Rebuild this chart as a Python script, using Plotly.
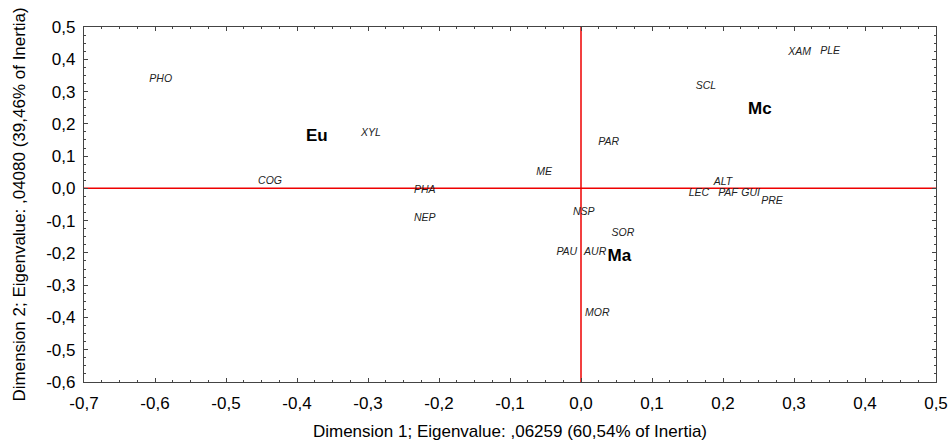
import plotly.graph_objects as go

# Column (species) coordinates on the first two dimensions
species = ["PHO", "XYL", "COG", "PHA", "NEP", "ME", "PAR", "NSP", "SOR",
           "PAU", "AUR", "MOR", "SCL", "XAM", "PLE", "ALT", "LEC", "PAF",
           "GUI", "PRE"]
species_dim1 = [-0.592, -0.296, -0.438, -0.220, -0.220, -0.052, 0.039, 0.004,
                0.059, -0.020, 0.020, 0.023, 0.176, 0.308, 0.351, 0.200,
                0.166, 0.207, 0.239, 0.269]
species_dim2 = [0.338, 0.171, 0.023, -0.006, -0.092, 0.049, 0.143, -0.075,
                -0.139, -0.198, -0.198, -0.387, 0.316, 0.422, 0.426, 0.020,
                -0.014, -0.014, -0.014, -0.041]

# Row (group) coordinates
groups = ["Eu", "Mc", "Ma"]
groups_dim1 = [-0.372, 0.252, 0.054]
groups_dim2 = [0.160, 0.244, -0.213]

x_ticks = [-0.7, -0.6, -0.5, -0.4, -0.3, -0.2, -0.1, 0.0, 0.1, 0.2, 0.3, 0.4, 0.5]
y_ticks = [0.5, 0.4, 0.3, 0.2, 0.1, 0.0, -0.1, -0.2, -0.3, -0.4, -0.5, -0.6]


def comma_label(v):
    return f"{v:.1f}".replace(".", ",")


FONT = "Liberation Sans, Arial, sans-serif"

fig = go.Figure()

fig.add_trace(go.Scatter(
    x=species_dim1, y=species_dim2, text=species, mode="text",
    textposition="middle center",
    textfont=dict(family=FONT, size=10.5, color="#222222", style="italic"),
    showlegend=False, hoverinfo="text",
))
fig.add_trace(go.Scatter(
    x=groups_dim1, y=groups_dim2, text=groups, mode="text",
    textposition="middle center",
    textfont=dict(family=FONT, size=17, color="#000000", weight="bold"),
    showlegend=False, hoverinfo="text",
))

fig.add_hline(y=0, line=dict(color="#ee0000", width=1.5), layer="below")
fig.add_vline(x=0, line=dict(color="#ee0000", width=1.5), layer="below")

axis_common = dict(
    showgrid=False, zeroline=False, automargin=False,
    showline=True, linecolor="#444444", linewidth=1.2, mirror="allticks",
    ticks="inside", ticklen=4, tickwidth=1, tickcolor="#444444",
    minor=dict(ticks="inside", ticklen=2, tickwidth=1, tickcolor="#444444"),
    tickfont=dict(family=FONT, size=17, color="#000000"),
    title_font=dict(family=FONT, size=17, color="#000000"),
)

fig.update_xaxes(
    range=[-0.7, 0.5], tickvals=x_ticks,
    ticktext=[comma_label(v) for v in x_ticks],
    minor_dtick=0.025,
    title_text="Dimension 1; Eigenvalue: ,06259 (60,54% of Inertia)",
    title_standoff=13, ticklabelstandoff=5,
    **axis_common,
)
fig.update_yaxes(
    range=[-0.6, 0.5], tickvals=y_ticks,
    ticktext=[comma_label(v) for v in y_ticks],
    minor_dtick=0.025,
    title_text="Dimension 2; Eigenvalue: ,04080 (39,46% of Inertia)",
    title_standoff=16, ticklabelstandoff=4,
    **axis_common,
)

fig.update_layout(
    width=951, height=447,
    margin=dict(l=84, r=15, t=27, b=65),
    plot_bgcolor="white", paper_bgcolor="white",
    font=dict(family=FONT),
)

fig.write_html("out.html")
